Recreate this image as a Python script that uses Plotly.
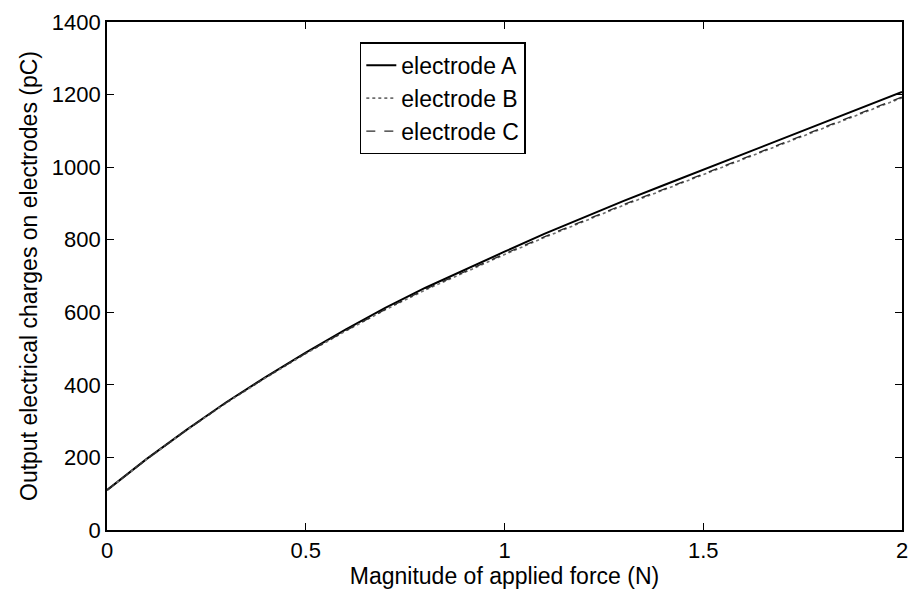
import plotly.graph_objects as go

force = [0.0, 0.1, 0.2, 0.3, 0.4, 0.5, 0.6, 0.7, 0.8, 0.9, 1.0,
         1.1, 1.2, 1.3, 1.4, 1.5, 1.6, 1.7, 1.8, 1.9, 2.0]
electrode_a = [110, 196, 276, 352, 422, 489, 552, 612, 667, 718, 767,
               816, 862, 907, 950, 993, 1036, 1079, 1122, 1164, 1207]
electrode_b = [110, 195, 275, 350, 420, 486, 548, 607, 661, 711, 759,
               806, 851, 895, 937, 979, 1021, 1063, 1106, 1148, 1191]
electrode_c = [110, 195, 275, 351, 421, 487, 549, 608, 663, 713, 761,
               808, 853, 897, 939, 981, 1023, 1065, 1108, 1150, 1193]
x_ticks = [0, 0.5, 1, 1.5, 2]
x_tick_labels = ["0", "0.5", "1", "1.5", "2"]
y_ticks = [0, 200, 400, 600, 800, 1000, 1200, 1400]

FONT = "Liberation Sans, Arial, sans-serif"

fig = go.Figure()
fig.add_trace(go.Scatter(x=force, y=electrode_a, mode="lines", name="electrode A",
                         line=dict(color="black", width=2)))
fig.add_trace(go.Scatter(x=force, y=electrode_b, mode="lines", name="electrode B",
                         line=dict(color="#6e6e6e", width=1.6, dash="dot")))
fig.add_trace(go.Scatter(x=force, y=electrode_c, mode="lines", name="electrode C",
                         line=dict(color="#2a2a2a", width=1.3, dash="dash")))

axis_common = dict(showgrid=False, zeroline=False, showline=True, linecolor="black",
                   linewidth=1.6, mirror="ticks", ticks="inside", ticklen=7,
                   tickcolor="black", tickwidth=1.2,
                   tickfont=dict(family=FONT, size=22, color="black"))

fig.update_layout(
    width=917, height=595,
    margin=dict(l=107, r=9, t=22, b=65),
    paper_bgcolor="white", plot_bgcolor="white",
    font=dict(family=FONT, color="black"),
    xaxis=dict(range=[0, 2], tickvals=x_ticks, ticktext=x_tick_labels,
               title=dict(text="Magnitude of applied force (N)", font=dict(size=23), standoff=0),
               **axis_common),
    yaxis=dict(range=[0, 1400], tickvals=y_ticks,
               title=dict(text="Output electrical charges on electrodes (pC)", font=dict(size=23), standoff=8),
               **axis_common),
    legend=dict(x=0.318, y=0.96, xanchor="left", yanchor="top",
                bgcolor="white", bordercolor="black", borderwidth=1.5,
                font=dict(size=23, color="black"), tracegroupgap=0),
    showlegend=True,
)

fig.write_html("out.html")
